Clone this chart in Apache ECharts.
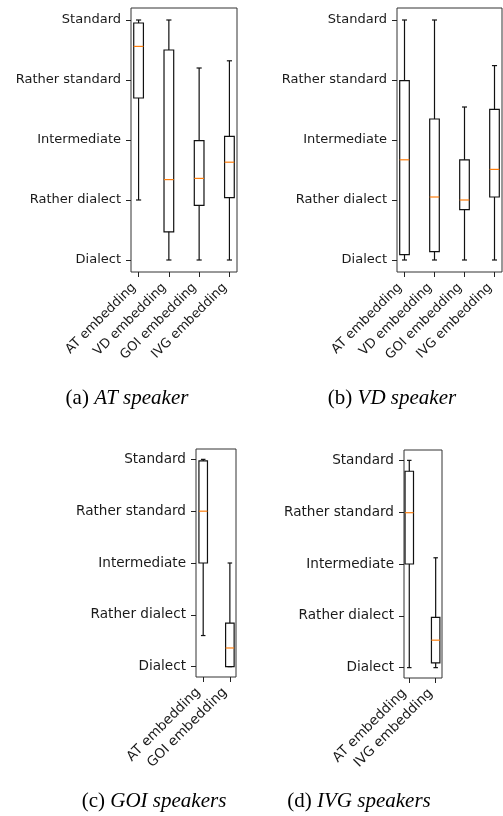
<!DOCTYPE html>
<html><head><meta charset="utf-8">
<script src="https://cdn.jsdelivr.net/npm/echarts@6/dist/echarts.min.js"></script>
<style>html,body{margin:0;padding:0;background:#fff}#c{width:503px;height:816px}</style>
</head><body><div id="c"></div>
<script>
// Rating scale (y tick labels), value 1..5
const levelLabels = ['Dialect', 'Rather dialect', 'Intermediate', 'Rather standard', 'Standard'];
// Categories (x tick labels)
const catsAB = ['AT embedding', 'VD embedding', 'GOI embedding', 'IVG embedding'];
const catsC = ['AT embedding', 'GOI embedding'];
const catsD = ['AT embedding', 'IVG embedding'];
// Box statistics: [min, Q1, median, Q3, max]
const atSpeaker = [[2.0, 3.70, 4.56, 4.95, 5.0], [1.0, 1.47, 2.34, 4.50, 5.0], [1.0, 1.91, 2.36, 2.99, 4.20], [1.0, 2.04, 2.63, 3.06, 4.32]];
const vdSpeaker = [[1.0, 1.09, 2.67, 3.99, 5.0], [1.0, 1.14, 2.05, 3.35, 5.0], [1.0, 1.84, 2.0, 2.67, 3.55], [1.0, 2.05, 2.51, 3.51, 4.24]];
const goiSpeakers = [[1.6, 3.0, 4.0, 4.97, 5.0], [1.0, 1.0, 1.36, 1.84, 3.0]];
const ivgSpeakers = [[1.0, 3.0, 3.99, 4.79, 5.0], [1.0, 1.09, 1.53, 1.97, 3.12]];
// Captions
const captions = [['(a)', 'AT speaker'], ['(b)', 'VD speaker'], ['(c)', 'GOI speakers'], ['(d)', 'IVG speakers']];

const panels = [
  {cats: catsAB, data: atSpeaker, grid: {left: 131, top: 8, width: 106, height: 264}, xr: [0.75, 4.25], fs: 13, margin: 18},
  {cats: catsAB, data: vdSpeaker, grid: {left: 397, top: 8, width: 105, height: 264}, xr: [0.75, 4.25], fs: 13, margin: 18},
  {cats: catsC, data: goiSpeakers, grid: {left: 196, top: 449, width: 40, height: 228}, xr: [0.73, 2.23], fs: 13.6, margin: 18},
  {cats: catsD, data: ivgSpeakers, grid: {left: 404, top: 450, width: 38, height: 228}, xr: [0.8, 2.24], fs: 13.6, margin: 18}
];
const capPos = [[127, 398], [392, 398], [154, 801], [359, 801]];

const BOX_W = 0.32, CAP_W = 0.17;
const TXT = '#1a1a1a';
const FONT = 'DejaVu Sans';

function renderBox(params, api) {
  const x = api.value(0), mn = api.value(1), q1 = api.value(2), md = api.value(3), q3 = api.value(4), mx = api.value(5);
  const hw = BOX_W / 2, cw = CAP_W / 2;
  const p = (a, b) => api.coord([a, b]);
  const tl = p(x - hw, q3), br = p(x + hw, q1);
  const ln = (a, b, color) => ({type: 'line', shape: {x1: a[0], y1: a[1], x2: b[0], y2: b[1]}, style: {stroke: color || '#111', lineWidth: 1.2}});
  return {type: 'group', children: [
    ln(p(x, q1), p(x, mn)),
    ln(p(x, q3), p(x, mx)),
    ln(p(x - cw, mn), p(x + cw, mn)),
    ln(p(x - cw, mx), p(x + cw, mx)),
    {type: 'rect', shape: {x: tl[0], y: tl[1], width: br[0] - tl[0], height: br[1] - tl[1]}, style: {stroke: '#111', lineWidth: 1.2, fill: 'none'}},
    ln(p(x - hw, md), p(x + hw, md), '#ff7f0e')
  ]};
}

const option = {animation: false, backgroundColor: '#fff', grid: [], xAxis: [], yAxis: [], series: [], graphic: []};
panels.forEach((pn, i) => {
  option.grid.push(Object.assign({show: true, borderColor: '#333', borderWidth: 1, backgroundColor: 'transparent'}, pn.grid));
  const xs = pn.cats.map((c, k) => k + 1);
  option.xAxis.push({
    gridIndex: i, type: 'value', min: pn.xr[0], max: pn.xr[1],
    axisLine: {show: false, onZero: false}, splitLine: {show: false},
    axisTick: {show: true, customValues: xs, length: 5, lineStyle: {color: '#222', width: 1}},
    axisLabel: {customValues: xs, formatter: v => pn.cats[Math.round(v) - 1], rotate: 45, margin: pn.margin,
      align: 'right', verticalAlign: 'bottom', fontSize: pn.fs, fontFamily: FONT, color: TXT}
  });
  option.yAxis.push({
    gridIndex: i, type: 'value', min: 0.8, max: 5.2,
    axisLine: {show: false, onZero: false}, splitLine: {show: false},
    axisTick: {show: true, customValues: [1, 2, 3, 4, 5], length: 5, lineStyle: {color: '#222', width: 1}},
    axisLabel: {customValues: [1, 2, 3, 4, 5], formatter: v => levelLabels[Math.round(v) - 1], margin: 10,
      fontSize: pn.fs, fontFamily: FONT, color: TXT}
  });
  option.series.push({
    type: 'custom', xAxisIndex: i, yAxisIndex: i, renderItem: renderBox,
    encode: {x: 0, y: [1, 2, 3, 4, 5]},
    data: pn.data.map((d, k) => [k + 1].concat(d))
  });
  const cp = captions[i];
  option.graphic.push({
    type: 'text', x: capPos[i][0], y: capPos[i][1],
    style: {
      text: '{n|' + cp[0] + '} {i|' + cp[1] + '}', align: 'center', verticalAlign: 'middle',
      fontFamily: 'Liberation Serif', fontSize: 21, fill: '#000',
      rich: {n: {fontFamily: 'Liberation Serif', fontSize: 21, fontStyle: 'normal', color: '#000'},
             i: {fontFamily: 'Liberation Serif', fontSize: 21, fontStyle: 'italic', color: '#000'}}
    }
  });
});
const chart = echarts.init(document.getElementById('c'), null, {renderer: 'canvas'});
chart.setOption(option);
</script></body></html>
